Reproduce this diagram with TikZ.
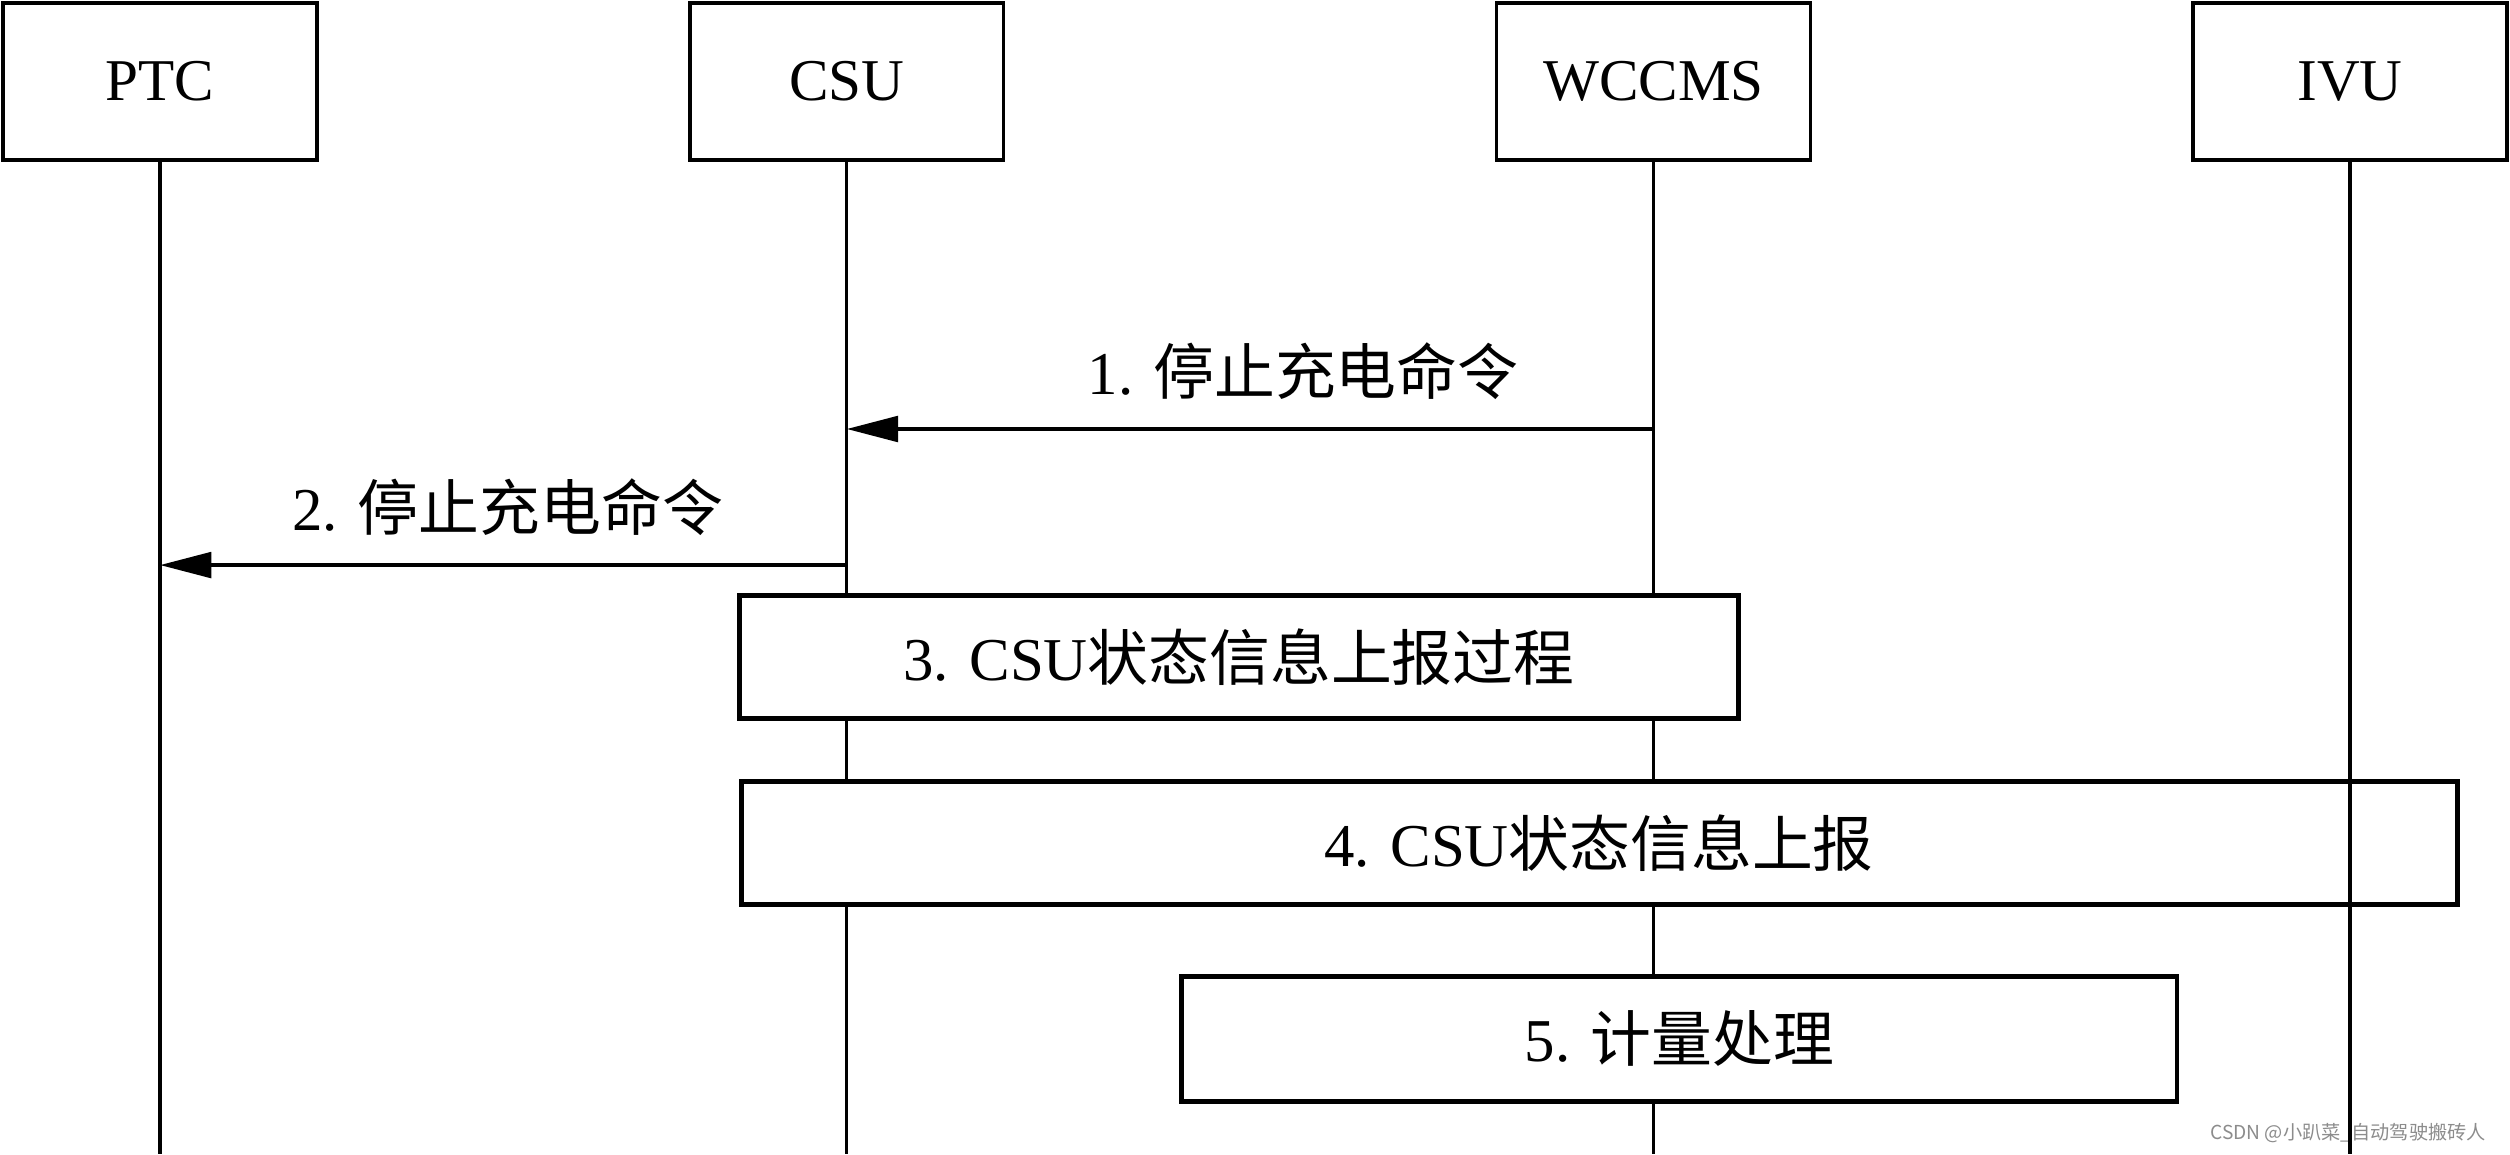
\documentclass[tikz,border=0pt]{standalone}
\usepackage{fontspec}
\setmainfont{Liberation Serif}
\newfontfamily\cjk{Noto Sans CJK SC}
\usetikzlibrary{arrows.meta}
\begin{document}
\begin{tikzpicture}[x=0.5pt,y=-0.5pt,
  head/.style={draw,line width=1.1pt,minimum width=98pt,minimum height=49pt,inner sep=0pt,font=\fontsize{18.5}{20}\selectfont},
  proc/.style={draw,line width=1.5pt,fill=white,minimum height=38.5pt,inner sep=0pt,font=\fontsize{19}{21}\selectfont},
  life/.style={line width=1pt},
  msg/.style={line width=1.1pt,-{Triangle[length=16pt,width=8pt]}},
  lbl/.style={font=\fontsize{19}{21}\selectfont}]
\useasboundingbox (0,0) rectangle (1568,721);
% heads
\node[head] (ptc) at (100,51) {PTC};
\node[head] (csu) at (529,51) {CSU};
\node[head] (wccms) at (1033,51) {WCCMS};
\node[head] (ivu) at (1468,51) {IVU};
% lifeline ends
\coordinate (ptcE) at (100,721);
\coordinate (csuE) at (529,721);
\coordinate (wccmsE) at (1033,721);
\coordinate (ivuE) at (1468,721);
\draw[life] (ptc.south) -- (ptcE);
\draw[life] (csu.south) -- (csuE);
\draw[life] (wccms.south) -- (wccmsE);
% messages
\coordinate (m1s) at (1033,268);
\coordinate (m1e) at (529,268);
\draw[msg] (m1s) -- (m1e);
\node[lbl] (l1) at (814,232) {1. {\cjk 停止充电命令}};
\coordinate (m2s) at (529,353);
\coordinate (m2e) at (100,353);
\draw[msg] (m2s) -- (m2e);
\node[lbl] (l2) at (317,317) {2. {\cjk 停止充电命令}};
% process boxes
\node[proc,minimum width=312pt] (p3) at (774,410.5) {3. CSU{\cjk 状态信息上报过程}};
\node[proc,minimum width=536pt] (p4) at (999,526.5) {4. CSU{\cjk 状态信息上报}};
\node[proc,minimum width=311pt,minimum height=39pt] (p5) at (1049,649) {5. {\cjk 计量处理}};
% watermark
\node[font=\cjk\fontsize{6}{7}\selectfont,text=black!45,anchor=east] (wm) at (1560,708) {CSDN @小趴菜\_自动驾驶搬砖人};
\draw[life] (ivu.south) -- (ivuE);
\end{tikzpicture}
\end{document}
